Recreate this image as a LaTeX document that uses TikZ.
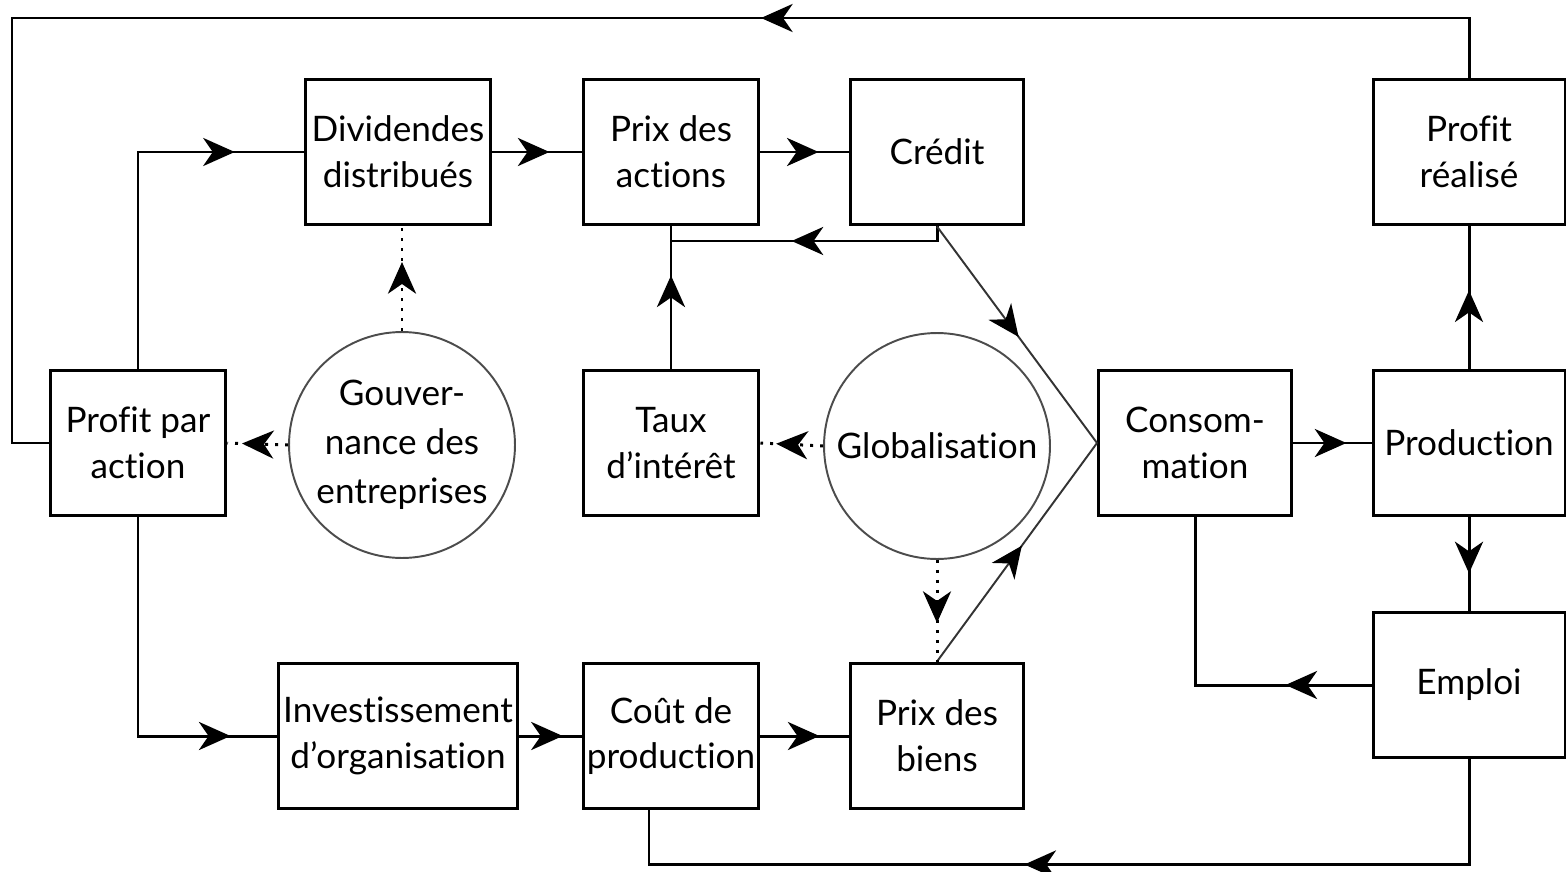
\documentclass[tikz,border=0pt]{standalone}
\usepackage{fontspec}
\setmainfont[Ligatures=NoCommon]{Lato}
\usepackage{tikz}
\usetikzlibrary{arrows.meta,decorations.markings,positioning}

\begin{document}
\begin{tikzpicture}[x=0.02cm,y=-0.02cm,
                    >={Stealth[length=18pt,width=16pt,inset=5.5pt]},
                    font=\fontsize{20}{26}\selectfont,
                    mid/.style={postaction={decorate},
                      decoration={markings,mark=at position #1 with {\arrow[black]{>}}}}]
  \tikzstyle{box}=[draw,line width=1.7pt,align=center,minimum width=3.52cm,
                   minimum height=2.92cm,inner sep=2pt]
  \tikzstyle{circ}=[draw=black!70,line width=1.1pt,circle,align=center,
                    minimum size=4.52cm,inner sep=0pt,font=\fontsize{20}{28}\selectfont]
  \tikzstyle{line}=[line width=1.7pt]
  \tikzstyle{thin line}=[line width=1.1pt,black!80]
  \tikzstyle{dots}=[line width=1.7pt,dash pattern=on 1.7pt off 4pt]

  \useasboundingbox (0,0) rectangle (1566,872);

  \node[box]                       (PA)   at (138,443)  {Profit par\\action};
  \node[box,minimum width=3.72cm]  (DD)   at (398,152)  {Dividendes\\distribués};
  \node[box]                       (PDA)  at (671,152)  {Prix des\\actions};
  \node[box,minimum width=3.48cm]  (CR)   at (937,152)  {Crédit};
  \node[box,minimum width=3.84cm]  (PR)   at (1469,152) {Profit\\réalisé};
  \node[circ]                      (GOUV) at (402,445)  {Gouver-\\nance des\\entreprises};
  \node[box]                       (TI)   at (671,443)  {Taux\\d’intérêt};
  \node[circ]                      (GLOB) at (937,446)  {Globalisation};
  \node[box,minimum width=3.86cm]  (CONS) at (1195,443) {Consom-\\mation};
  \node[box,minimum width=3.84cm]  (PROD) at (1469,443) {Production};
  \node[box,minimum width=3.84cm]  (EMP)  at (1469,685) {Emploi};
  \node[box,minimum width=4.78cm]  (INV)  at (398,736)  {Investissement\\d’organisation};
  \node[box]                       (CP)   at (671,736)  {Coût de\\production};
  \node[box,minimum width=3.48cm]  (PDB)  at (937,736)  {Prix des\\biens};

  \coordinate (J)  at (671,241);
  \coordinate (TL) at (12,18);
  \coordinate (CB) at (649,808);

  % upper row
  \draw[line,mid=0.82]  (PA.north) |- (DD.west);
  \draw[line,mid=0.64]  (DD) -- (PDA);
  \draw[line,mid=0.66]  (PDA) -- (CR);
  \draw[line,mid=0.57]  (CR.south) |- (J);
  \draw[line,mid=0.655] (TI) -- (PDA);
  \draw[thin line,mid=0.51] (CR.south) -- (CONS.west);
  \draw[thin line,mid=0.53] (PDB.north) -- (CONS.west);

  % dotted influences
  \draw[dots,mid=0.66] (GOUV.north) -- (GOUV.north |- DD.south);
  \draw[dots,mid=0.76] (GOUV.west) -- (PA.east);
  \draw[dots,mid=0.75] (GLOB.west) -- (TI.east);
  \draw[dots,mid=0.62] (GLOB.south) -- (PDB.north);

  % right part
  \draw[line,mid=0.68] (CONS) -- (PROD);
  \draw[line,mid=0.55] (PROD) -- (PR);
  \draw[line,mid=0.6]  (PROD) -- (EMP);
  \draw[line,mid=0.25] (EMP.west) -| (CONS.south);

  % lower row
  \draw[line,mid=0.87] (PA.south) |- (INV.west);
  \draw[line,mid=0.7]  (INV) -- (CP);
  \draw[line,mid=0.67] (CP) -- (PDB);

  % outer loops
  \draw[line,mid=0.56]  (EMP.south) -- ++(0,105) -| (CB);
  \draw[line,mid=0.388] (PR.north) |- (TL) |- (PA.west);
\end{tikzpicture}
\end{document}
